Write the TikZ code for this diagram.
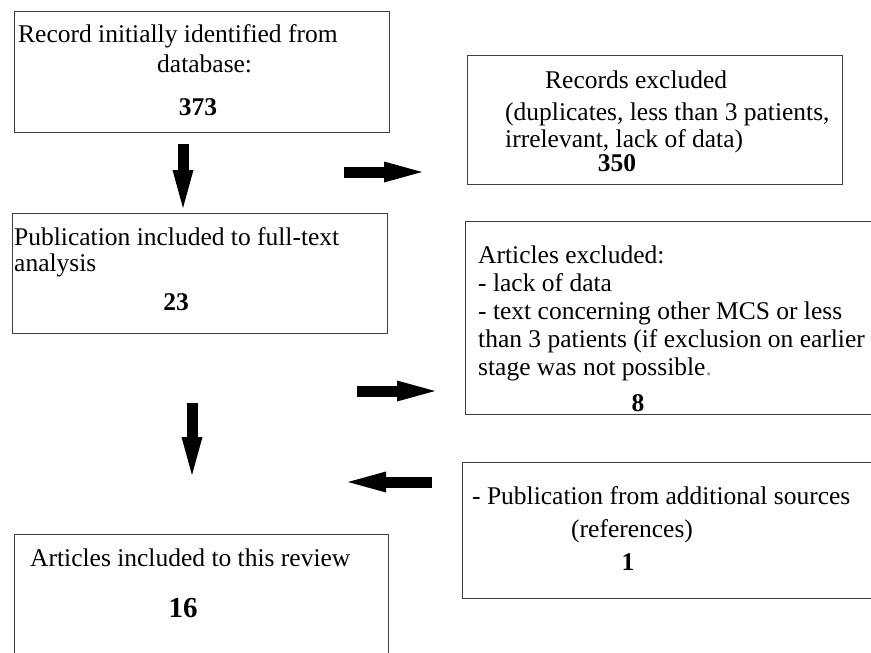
\documentclass[tikz,border=0pt]{standalone}
\usepackage{fontspec}
\setmainfont{Liberation Serif}
\usetikzlibrary{arrows.meta}
\begin{document}
\begin{tikzpicture}[x=1pt,y=-1pt,
  box/.style={draw=black!75, line width=1.3pt, rectangle, inner sep=0pt, anchor=north west},
  txt/.style={inner sep=0pt, anchor=base west, font=\fontsize{25.5}{28}\selectfont},
  num/.style={inner sep=0pt, anchor=base, font=\fontsize{25.5}{28}\selectfont\bfseries},
  bignum/.style={inner sep=0pt, anchor=base, font=\fontsize{29}{32}\selectfont\bfseries},
  blockarrow/.style={line width=11pt, -{Triangle[length=38pt,width=21pt,line width=0pt]}}
]
\useasboundingbox (0,0) rectangle (871,653);
\fill[white] (0,0) rectangle (871,653);
\clip (0,0) rectangle (871,653);

% boxes
\node[box, minimum width=375pt, minimum height=121pt] (b1) at (14,11) {};
\node[box, minimum width=375pt, minimum height=129pt] (b2) at (467,55) {};
\node[box, minimum width=375pt, minimum height=120pt] (b3) at (12,213) {};
\node[box, minimum width=430pt, minimum height=193pt] (b4) at (465,221) {};
\node[box, minimum width=430pt, minimum height=136pt] (b5) at (462,462) {};
\node[box, minimum width=374pt, minimum height=140pt] (b6) at (14,534) {};

% box 1
\node[txt] (t11) at (18,42) {Record initially identified from};
\node[txt] (t12) at (157,72) {database:};
\node[num] (t13) at (198,115) {373};

% box 2
\node[txt] (t21) at (545,88) {Records excluded};
\node[txt] (t22) at (505,120) {(duplicates, less than 3 patients,};
\node[txt] (t23) at (505,147) {irrelevant, lack of data)};
\node[num] (t24) at (617,171) {350};

% box 3
\node[txt] (t31) at (14,245) {Publication included to full-text};
\node[txt] (t32) at (14,271) {analysis};
\node[num] (t33) at (176,310) {23};

% box 4
\node[txt] (t41) at (478,263) {Articles excluded:};
\node[txt] (t42) at (478,291) {- lack of data};
\node[txt] (t43) at (478,319) {- text concerning other MCS or less};
\node[txt] (t44) at (478,347) {than 3 patients (if exclusion on earlier};
\node[txt] (t45) at (478,375) {stage was not possible{\color{black!45}.}};
\node[num] (t46) at (638,411) {8};

% box 5
\node[txt] (t51) at (472,504) {- Publication from additional sources};
\node[txt] (t52) at (571,537) {(references)};
\node[num] (t53) at (628,570) {1};

% box 6
\node[txt] (t61) at (30,566) {Articles included to this review};
\node[bignum] (t62) at (183,617) {16};

% block arrows
\coordinate (a1s) at (183,144);
\coordinate (a1e) at (183,208);
\coordinate (a2s) at (344,172);
\coordinate (a2e) at (422,172);
\coordinate (a3s) at (357,391);
\coordinate (a3e) at (435,391);
\coordinate (a4s) at (432,482);
\coordinate (a4e) at (348,482);
\coordinate (a5s) at (192,403);
\coordinate (a5e) at (192,475);
\draw[blockarrow] (a1s) -- (a1e);
\draw[blockarrow] (a2s) -- (a2e);
\draw[blockarrow] (a3s) -- (a3e);
\draw[blockarrow] (a4s) -- (a4e);
\draw[blockarrow] (a5s) -- (a5e);
\end{tikzpicture}
\end{document}
